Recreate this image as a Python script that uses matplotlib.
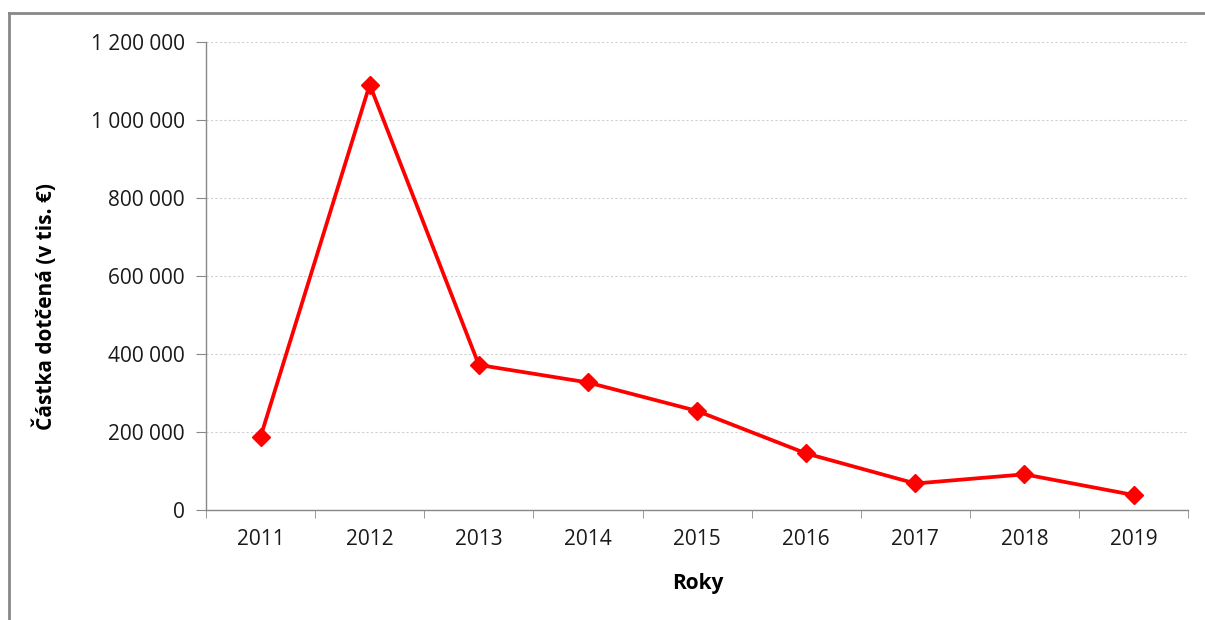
import matplotlib
matplotlib.use("Agg")
import matplotlib.pyplot as plt
from matplotlib.ticker import FuncFormatter, FixedLocator
from matplotlib.lines import Line2D

years = ["2011", "2012", "2013", "2014", "2015", "2016", "2017", "2018", "2019"]
values = [188000, 1091000, 372000, 327000, 254000, 145000, 68000, 91500, 38500]
yticks = [0, 200000, 400000, 600000, 800000, 1000000, 1200000]

plt.rcParams['font.family'] = ['Open Sans', 'DejaVu Sans']

fig = plt.figure(figsize=(12.05, 6.2), dpi=100)
ax = fig.add_axes([0.171, 0.1774, 0.815, 0.7548])

x = list(range(len(years)))
ax.plot(x, values, color='#ff0000', lw=2.7, marker='D', markersize=9, zorder=3)

ax.set_xlim(-0.5, len(years) - 0.5)
ax.set_ylim(0, 1200000)
ax.set_yticks(yticks)
ax.yaxis.set_major_formatter(FuncFormatter(lambda v, p: f"{int(v):,}".replace(",", " ")))
ax.set_xticks(x)
ax.set_xticklabels(years)
ax.xaxis.set_minor_locator(FixedLocator([i - 0.5 for i in range(len(years) + 1)]))
ax.tick_params(axis='x', which='major', length=0, pad=14, labelsize=15, colors='#1a1a1a')
ax.tick_params(axis='x', which='minor', length=6, color='#888888', direction='out')
ax.tick_params(axis='y', length=7.5, color='#888888', pad=8, labelsize=15, labelcolor='#1a1a1a')

ax.grid(axis='y', color='#d0d0d0', linestyle=(0, (2, 2)), lw=0.8)
ax.set_axisbelow(True)
for s in ['top', 'right']:
    ax.spines[s].set_visible(False)
for s in ['left', 'bottom']:
    ax.spines[s].set_color('#888888')
    ax.spines[s].set_linewidth(1)

ax.set_xlabel("Roky", fontsize=15, fontweight='bold', va='center')
ax.xaxis.set_label_coords(0.501, -0.156)
ax.set_ylabel("Částka dotčená (v tis. €)", fontsize=15, fontweight='bold', va='center')
ax.yaxis.set_label_coords(-0.164, 0.434)

# outer frame (top and left edges visible)
fig.add_artist(Line2D([9/1205, 9/1205], [0, 1 - 13/620], transform=fig.transFigure, color='#888888', lw=2))
fig.add_artist(Line2D([9/1205, 1], [1 - 13/620, 1 - 13/620], transform=fig.transFigure, color='#888888', lw=2))

fig.savefig("out.png", dpi=100)
